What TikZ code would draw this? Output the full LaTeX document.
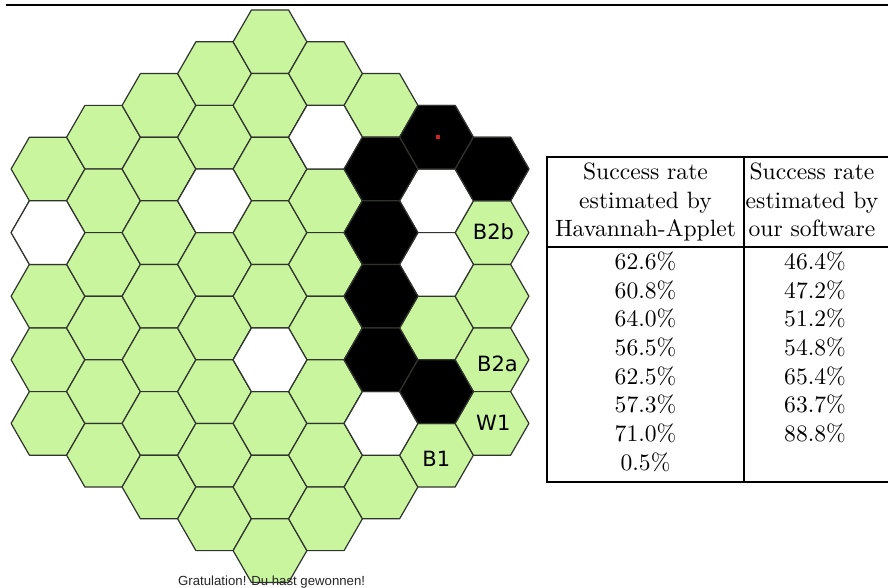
\documentclass[tikz,border=0pt]{standalone}
\usepackage{fontspec}
\newfontfamily\labelfont{DejaVu Sans}
\newfontfamily\msgfont{Liberation Sans}
\newfontfamily\tabfont{lmroman10-regular}[Extension=.otf]
\definecolor{hexgreen}{RGB}{200,245,158}
\definecolor{hexline}{RGB}{48,52,46}
\definecolor{dotred}{RGB}{205,35,35}
\newcommand{\hexcell}[3]{%
  \pgfmathsetmacro\hcx{270+55.5*(#1)}%
  \pgfmathsetmacro\hcy{10+31.8*abs(#1)+63.6*(#2)+31.8}%
  \filldraw[hexedge, fill=#3] (\hcx-18.6,\hcy-31.8) -- (\hcx+18.6,\hcy-31.8) -- (\hcx+36.9,\hcy) -- (\hcx+18.6,\hcy+31.8) -- (\hcx-18.6,\hcy+31.8) -- (\hcx-36.9,\hcy) -- cycle;}
\tikzset{
  hexedge/.style={draw=hexline, line width=1.2pt, line join=round},
  tabline/.style={line width=2.2pt},
  tabtext/.style={anchor=base, inner sep=0pt, font=\tabfont\fontsize{23.6}{28}\selectfont},
  hexlabel/.style={anchor=base, inner sep=0pt, font=\labelfont\fontsize{21}{24}\selectfont},
  msgtext/.style={anchor=base west, inner sep=0pt, text=black!85, font=\msgfont\fontsize{13.2}{15}\selectfont}
}
\begin{document}
\begin{tikzpicture}[x=1pt, y=-1pt]
\useasboundingbox (0,0) rectangle (888,588);
% top rule
\draw[line width=2.3pt] (6,5.3) -- (888,5.3);
% board
\foreach \k in {-4,...,4}{%
  \pgfmathtruncatemacro\nmax{8-abs(\k)}%
  \foreach \j in {0,...,\nmax}{\hexcell{\k}{\j}{hexgreen}}%
}
\foreach \k/\j in {-4/1,-1/2,0/5,1/1,3/1,3/2,2/5}{\hexcell{\k}{\j}{white}}
\foreach \k/\j in {3/0,4/0,2/1,2/2,2/3,2/4,3/4}{\hexcell{\k}{\j}{black}}
\fill[dotred] (436.3,135.3) rectangle (439.8,138.8);
% hex labels
\node[hexlabel] (lbBtwoB) at (493.5,239.3) {B2b};
\node[hexlabel] (lbBtwoA) at (497.5,371.7) {B2a};
\node[hexlabel] (lbWone) at (493.3,430) {W1};
\node[hexlabel] (lbBone) at (436.3,466.7) {B1};
% message
\node[msgtext] (msg) at (178,585) {Gratulation! Du hast gewonnen!};
% table lines
\draw[tabline] (547,157.3) -- (888,157.3);
\draw[tabline] (547,246.7) -- (888,246.7);
\draw[tabline] (547,482.3) -- (888,482.3);
\draw[tabline] (547,156.2) -- (547,483.4);
\draw[tabline] (744,156.2) -- (744,483.4);
% table header
\node[tabtext] (hA1) at (645.5,179.3) {Success rate};
\node[tabtext] (hA2) at (645.5,208) {estimated by};
\node[tabtext] (hA3) at (645.5,236.7) {Havannah-Applet};
\node[tabtext] (hB1) at (812,179.3) {Success rate};
\node[tabtext] (hB2) at (812,208) {estimated by};
\node[tabtext] (hB3) at (812,236.7) {our software};
% table data
\foreach \v [count=\i from 0] in {62.6\%,60.8\%,64.0\%,56.5\%,62.5\%,57.3\%,71.0\%,0.5\%}{%
  \node[tabtext] (dA\i) at (645.5,269.3+28.7*\i) {\v};}
\foreach \v [count=\i from 0] in {46.4\%,47.2\%,51.2\%,54.8\%,65.4\%,63.7\%,88.8\%}{%
  \node[tabtext] (dB\i) at (815,269.3+28.7*\i) {\v};}
\end{tikzpicture}
\end{document}
